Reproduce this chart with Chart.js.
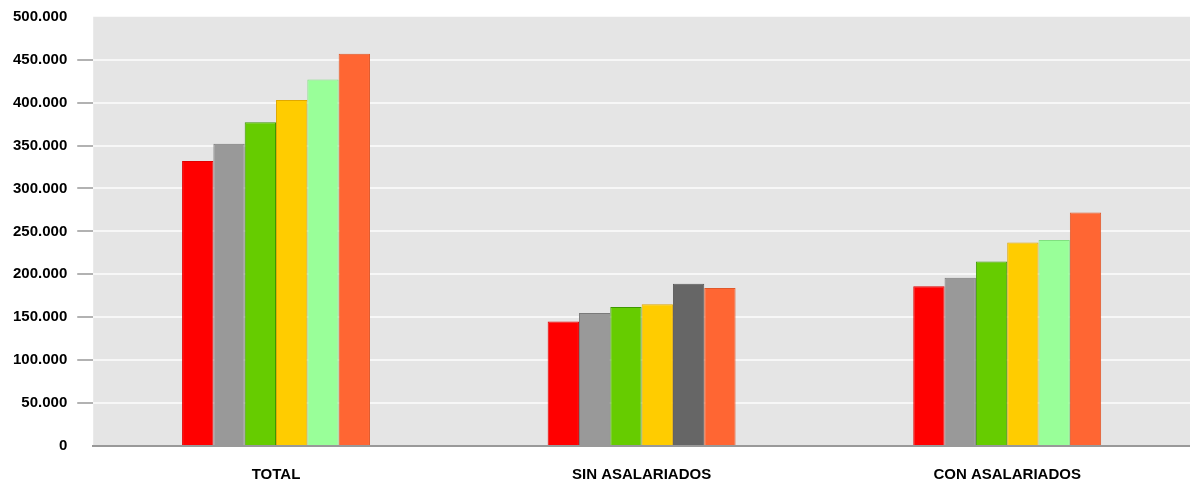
<!DOCTYPE html>
<html>
<head>
<meta charset="utf-8">
<script src="https://cdn.jsdelivr.net/npm/chart.js@4/dist/chart.umd.min.js"></script>
<style>
	html, body { margin: 0; padding: 0; background: #fff; overflow: hidden; }
	canvas { display: block; }
</style>
</head>
<body>
<canvas id="bars" width="1190" height="488"></canvas>
<script>
const categories = ['TOTAL', 'SIN ASALARIADOS', 'CON ASALARIADOS'];

// one array per series (bar position inside each group)
const serie1 = [332000, 145000, 186000];
const serie2 = [352000, 155000, 196000];
const serie3 = [377000, 162000, 215000];
const serie4 = [403000, 165000, 237000];
const serie5 = [427000, 189000, 240000];
const serie6 = [457000, 184000, 272000];

const yTicks = [0, 50000, 100000, 150000, 200000, 250000, 300000, 350000, 400000, 450000, 500000];

const fills = ['#ff0000', '#999999', '#66cc00', '#ffcc00', '#99ff99', '#ff6633'];
const borders = ['#e00000', '#7a7a7a', '#3d9900', '#e0a800', '#80e080', '#e0582a'];

const FONT = "'Liberation Sans', Arial, sans-serif";

const ctx = document.getElementById('bars').getContext('2d');

const plotBackground = {
	id: 'plotBackground',
	beforeDraw(chart) {
		const a = chart.chartArea;
		const c = chart.ctx;
		c.save();
		c.fillStyle = '#e5e5e5';
		c.fillRect(a.left, a.top, a.right - a.left, a.bottom - a.top);
		c.restore();
	}
};

function makeSet(values, idx) {
	let bg = values.map(() => fills[idx]);
	let bd = values.map(() => borders[idx]);
	if (idx === 4) {
		// the 5th bar of SIN ASALARIADOS is drawn dark grey
		bg[1] = '#666666';
		bd[1] = '#5a5a5a';
	}
	return {
		data: values,
		backgroundColor: bg,
		borderColor: bd,
		borderWidth: 1,
		borderSkipped: 'bottom',
		categoryPercentage: 0.514,
		barPercentage: 1,
	};
}

const edgeTick = (c) => c.tick && (c.tick.value === 0 || c.tick.value === 500000);

const chart = new Chart(ctx, {
	type: 'bar',
	data: {
		labels: categories,
		datasets: [serie1, serie2, serie3, serie4, serie5, serie6].map(makeSet),
	},
	options: {
		responsive: false,
		animation: false,
		layout: { padding: { top: 0, right: 0, left: 3, bottom: -16 } },
		plugins: {
			legend: { display: false },
			tooltip: { enabled: false },
		},
		scales: {
			x: {
				grid: { display: false, drawTicks: false },
				border: { display: true, color: '#999999', width: 2 },
				ticks: {
					color: '#000',
					padding: 20,
					font: { family: FONT, size: 15, weight: 'bold' },
				},
			},
			y: {
				min: 0,
				max: 500000,
				afterBuildTicks: (axis) => { axis.ticks = yTicks.map(v => ({ value: v })); },
				grid: {
					color: (c) => edgeTick(c) ? 'rgba(0,0,0,0)' : '#f7f7f7',
					lineWidth: 2,
					drawTicks: true,
					tickLength: 16,
					tickColor: (c) => edgeTick(c) ? 'rgba(0,0,0,0)' : '#999999',
					tickWidth: 1.5,
				},
				border: { display: false },
				ticks: {
					color: '#000',
					padding: 10,
					font: { family: FONT, size: 15, weight: 'bold', lineHeight: 0.9 },
					callback: (v) => v.toLocaleString('de-DE'),
				},
			},
		},
	},
	plugins: [plotBackground],
});
</script>
</body>
</html>
